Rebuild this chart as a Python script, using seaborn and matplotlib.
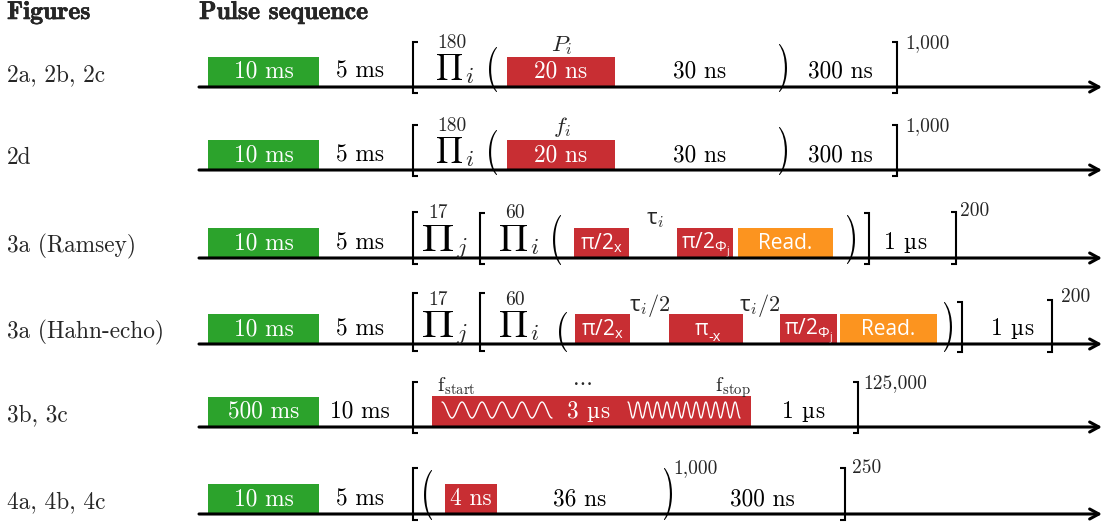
import numpy as np
import matplotlib
matplotlib.use("Agg")
import matplotlib.pyplot as plt
import seaborn as sns
import matplotlib.patheffects as pe
from matplotlib.textpath import TextPath
from matplotlib.patches import PathPatch
from matplotlib.font_manager import FontProperties
import matplotlib.transforms as mtransforms

# ---------------- data ----------------
headers = ["Figures", "Pulse sequence"]
row_labels = ["2a, 2b, 2c", "2d", "3a (Ramsey)", "3a (Hahn-echo)", "3b, 3c", "4a, 4b, 4c"]
init_labels = ["10 ms", "10 ms", "10 ms", "10 ms", "500 ms", "10 ms"]
wait_labels = ["5 ms", "5 ms", "5 ms", "5 ms", "10 ms", "5 ms"]

# pulses drawn as boxes: row, label, kind
pulse_row = [0, 1, 2, 2, 2, 3, 3, 3, 3, 4, 5]
pulse_label = ["20 ns", "20 ns",
               r"$\mathrm{\pi/2_x}$", r"$\mathrm{\pi/2_{\Phi_j}}$", "Read.",
               r"$\mathrm{\pi/2_x}$", "PI_MX", r"$\mathrm{\pi/2_{\Phi_j}}$", "Read.",
               "3 \u00b5s", "4 ns"]
pulse_kind = ["mw", "mw", "mw", "mw", "read", "mw", "mw", "mw", "read", "chirp", "mw"]

# free evolution / wait labels on the line
delay_row = [0, 0, 1, 1, 2, 3, 4, 5, 5]
delay_label = ["30 ns", "300 ns", "30 ns", "300 ns", "1 \u00b5s", "1 \u00b5s", "1 \u00b5s", "36 ns", "300 ns"]

# repetition counts
rep_row = [0, 0, 1, 1, 2, 2, 2, 3, 3, 3, 4, 5, 5]
rep_label = ["180", "1,000", "180", "1,000", "17", "60", "200", "17", "60", "200", "125,000", "1,000", "250"]

# parameter labels above pulses
param_row = [0, 1, 2, 3, 3]
param_label = [r"$P_i$", r"$f_i$", r"$\mathrm{\tau}_i$", r"$\mathrm{\tau}_i\mathcal{/2}$", r"$\mathrm{\tau}_i\mathcal{/2}$"]

# chirp: number of oscillations drawn in the two halves
chirp_cycles = [5.5, 11.5]

# ---------------- layout (pixels) ----------------
W, H = 1107, 525
bases = [87, 170, 258, 344, 427, 514]
pulse_x = [(507, 615), (507, 615), (574, 629), (677, 733), (738, 833),
           (575, 630), (669, 743), (780, 837), (840, 937), (432, 751), (445, 497)]
delay_x = [700, 840, 700, 840, 905, 1012, 803, 580, 762]
rep_pos = [(452, -44, "c"), (905, -44, "l"), (452, -44, "c"), (905, -44, "l"),
           (438, -45, "c"), (515, -45, "c"), (960, -47, "l"),
           (438, -44, "c"), (515, -44, "c"), (1061, -47, "l"),
           (863, -44, "l"), (695, -46, "c"), (852, -46, "l")]
param_pos = [(562, -36), (562, -37), (655, -34), (650, -33), (760, -33)]

colors = {"init": "#2ca32c", "mw": "#c82e33", "read": "#fc941f", "chirp": "#c82e33"}

SERIF = ["cmr10", "DejaVu Serif"]
FS = 16.8
FS_SUP = 14
FS_SANS = 15

sns.set_theme(style="white")
plt.rcParams["mathtext.fontset"] = "custom"
plt.rcParams["mathtext.rm"] = "Open Sans"
plt.rcParams["mathtext.it"] = "cmmi10"
plt.rcParams["mathtext.cal"] = "cmr10"
plt.rcParams["mathtext.bf"] = "Open Sans:bold"
plt.rcParams["mathtext.sf"] = "Open Sans"
plt.rcParams["font.family"] = SERIF

fig = plt.figure(figsize=(W / 100, H / 100), dpi=100)
ax = fig.add_axes([0, 0, 1, 1])
ax.set_xlim(0, W)
ax.set_ylim(H, 0)
ax.axis("off")
renderer = fig.canvas.get_renderer()


def fit_glyph(s, x0, x1, ytop, ybot, prop):
    tp = TextPath((0, 0), s, size=10, prop=prop)
    ext = tp.get_extents()
    sx = (x1 - x0) / ext.width
    sy = (ybot - ytop) / ext.height
    tr = (mtransforms.Affine2D().translate(-ext.x0, -ext.y0)
          .scale(sx, -sy).translate(x0, ybot))
    ax.add_patch(PathPatch(tr.transform_path(tp), fc="black", ec="none", lw=0, zorder=5))


paren_prop = FontProperties(family="cmr10")
prod_prop = FontProperties(size=20, math_fontfamily="cm")


def paren(ch, xc, base, top, bot, w=8):
    fit_glyph(ch, xc - w / 2, xc + w / 2, base + top, base + bot, paren_prop)


def prod(x0, x1, base, sub):
    fit_glyph(r"$\prod$", x0, x1, base - 33, base - 7, prod_prop)
    ax.text(x1 + 3, base - 4, "$%s$" % sub, fontsize=FS, math_fontfamily="cm",
            ha="left", va="baseline", zorder=5)


def bracket(x, base, top, bot, side="l"):
    d = 5 if side == "l" else -5
    ax.plot([x + d, x, x, x + d], [base + top, base + top, base + bot, base + bot],
            color="black", lw=1.5, solid_joinstyle="miter", solid_capstyle="butt", zorder=5)


def serif_text(xc, yb, s, color="black"):
    """Serif text centred at xc; a micro sign is taken from DejaVu Serif."""
    if "\u00b5" not in s:
        ax.text(xc, yb, s, fontsize=FS, color=color, ha="center", va="baseline", zorder=3)
        return
    num, unit = s.split(" ")
    pieces = [(num, "cmr10", FS, 0), ("\u00b5", "DejaVu Serif", 14.5, 7.5), (unit[1:], "cmr10", FS, 0.5)]
    arts, total = [], 0
    for txt, fam, fs, gap in pieces:
        t = ax.text(0, yb, txt, family=fam, fontsize=fs, color=color, ha="left", va="baseline", zorder=3)
        w = t.get_window_extent(renderer).width
        arts.append((t, gap, w))
        total += gap + w
    x = xc - total / 2
    for t, gap, w in arts:
        x += gap
        t.set_x(x)
        x += w


# headers
for x, s in zip([7, 199], headers):
    ax.text(x, 19, s, family="cmb10", fontsize=18.5, ha="left", va="baseline",
            path_effects=[pe.withStroke(linewidth=0.35, foreground="black")])

# timeline, init and wait
for r, b in enumerate(bases):
    ax.annotate("", xy=(1102, b), xytext=(199, b),
                arrowprops=dict(arrowstyle="->,head_length=0.55,head_width=0.3",
                                lw=2.2, color="black", shrinkA=0, shrinkB=0), zorder=4)
    ax.text(7, b - 6, row_labels[r], fontsize=FS, ha="left", va="baseline")
    ax.bar(208, -30, width=111, bottom=b, align="edge", color=colors["init"], lw=0, zorder=2)
    serif_text(263.5, b - 9, init_labels[r], color="white")
    serif_text(360, b - 9, wait_labels[r])

# pulses
for i, r in enumerate(pulse_row):
    b = bases[r]
    x0, x1 = pulse_x[i]
    kind = pulse_kind[i]
    h = 31 if kind == "chirp" else 30
    ax.bar(x0, -h, width=x1 - x0, bottom=b, align="edge", color=colors[kind], lw=0, zorder=2)
    xc = (x0 + x1) / 2
    lab = pulse_label[i]
    if lab == "PI_MX":
        ax.text(xc + 2, b - 9, "\u03c0", family="Open Sans", fontsize=FS_SANS, color="white",
                ha="right", va="baseline", zorder=3)
        ax.text(xc + 2, b - 3, "-x", family="Open Sans", fontsize=10.5, color="white",
                ha="left", va="baseline", zorder=3)
    elif lab.startswith("$") or lab == "Read.":
        ax.text(xc, b - 9, lab, family="Open Sans", fontsize=FS_SANS, color="white",
                ha="center", va="baseline", zorder=3)
    elif kind == "chirp":
        serif_text(588, b - 9, lab, color="white")
    else:
        serif_text(xc, b - 9, lab, color="white")

# chirp waves (illustrative)
b5 = bases[4]
for (wx0, wx1), nc in zip([(442, 552), (628, 740)], chirp_cycles):
    xs = np.linspace(wx0, wx1, 600)
    ys = b5 - 17 - 8 * np.cos(2 * np.pi * nc * (xs - wx0) / (wx1 - wx0))
    ax.plot(xs, ys, color="white", lw=1.0, zorder=3)
ax.text(437, b5 - 36, r"$\mathrm{f_{start}}$", fontsize=15, math_fontfamily="cm", ha="left", va="baseline")
ax.text(715, b5 - 36, r"$\mathrm{f_{stop}}$", fontsize=15, math_fontfamily="cm", ha="left", va="baseline")
ax.text(583, b5 - 42, "...", fontsize=FS, ha="center", va="baseline")

# delays
for i, r in enumerate(delay_row):
    serif_text(delay_x[i], bases[r] - 9, delay_label[i])

# reps
for i, r in enumerate(rep_row):
    x, dy, al = rep_pos[i]
    ax.text(x, bases[r] + dy, rep_label[i], fontsize=FS_SUP, ha="center" if al == "c" else "left",
            va="center")

# parameter labels
for i, r in enumerate(param_row):
    x, dy = param_pos[i]
    lab = param_label[i]
    if r < 2:
        ax.text(x, bases[r] + dy, lab, fontsize=FS, math_fontfamily="cm", ha="center", va="baseline")
    else:
        ax.text(x, bases[r] + dy, lab, fontsize=FS_SANS + 1, ha="center", va="baseline")

# brackets, parentheses and products
for r in (0, 1):
    b = bases[r]
    bracket(413, b, -45, 6, "l")
    prod(437, 462, b, "i")
    paren("(", 493, b, -40, 5)
    paren(")", 783, b, -43, 5)
    bracket(897, b, -45, 6, "r")

b = bases[2]
bracket(413, b, -46, 6, "l")
prod(423, 453, b, "j")
bracket(480, b, -45, 6, "l")
prod(500, 527, b, "i")
paren("(", 557, b, -43, 7)
paren(")", 851, b, -43, 6)
bracket(869, b, -45, 6, "r")
bracket(956, b, -46, 6, "r")

b = bases[3]
bracket(413, b, -51, 7, "l")
prod(423, 453, b, "j")
bracket(480, b, -51, 7, "l")
prod(500, 527, b, "i")
paren("(", 563, b, -32, 8)
paren(")", 948, b, -42, 8)
bracket(962, b, -42, 8, "r")
bracket(1052, b, -44, 8, "r")

b = bases[4]
bracket(413, b, -45, 6, "l")
bracket(858, b, -45, 6, "r")

b = bases[5]
bracket(413, b, -46, 6, "l")
paren("(", 428, b, -44, 6)
paren(")", 668, b, -46, 6)
bracket(845, b, -46, 6, "r")

fig.savefig("out.png", dpi=100)
